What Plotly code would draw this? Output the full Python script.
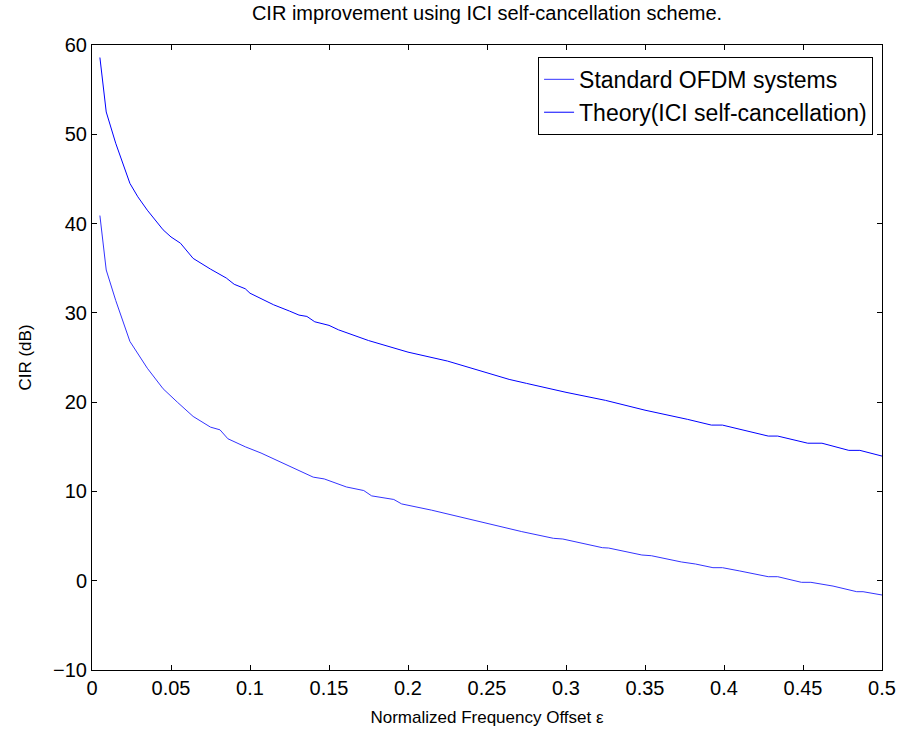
import plotly.graph_objects as go

# Data
eps_theory = [0.005, 0.009, 0.015, 0.02, 0.024, 0.029, 0.035, 0.045, 0.05, 0.056, 0.064,
              0.075, 0.085, 0.09, 0.097, 0.1, 0.107, 0.115, 0.125, 0.131, 0.136, 0.141,
              0.15, 0.156, 0.175, 0.2, 0.225, 0.25, 0.257, 0.264, 0.275, 0.3, 0.325,
              0.35, 0.377, 0.392, 0.399, 0.428, 0.434, 0.453, 0.462, 0.479, 0.486, 0.5]
cir_theory = [58.6, 52.5, 49.0, 46.5, 44.5, 43.0, 41.5, 39.3, 38.5, 37.8, 36.1,
              34.9, 33.9, 33.2, 32.7, 32.2, 31.6, 30.9, 30.2, 29.75, 29.6, 29.0,
              28.6, 28.1, 26.9, 25.6, 24.6, 23.3, 23.0, 22.55, 22.1, 21.1, 20.2,
              19.1, 18.07, 17.43, 17.43, 16.2, 16.2, 15.4, 15.4, 14.6, 14.6, 13.96]

eps_std = [0.005, 0.009, 0.015, 0.024, 0.035, 0.045, 0.054, 0.064, 0.075, 0.081, 0.086,
           0.097, 0.107, 0.125, 0.14, 0.147, 0.161, 0.172, 0.177, 0.191, 0.196, 0.215,
           0.25, 0.272, 0.292, 0.298, 0.323, 0.327, 0.348, 0.354, 0.373, 0.382, 0.393,
           0.399, 0.41, 0.428, 0.434, 0.449, 0.455, 0.469, 0.484, 0.488, 0.5]
cir_std = [40.9, 34.8, 31.4, 26.8, 23.8, 21.5, 20.0, 18.4, 17.2, 16.9, 15.9,
           15.0, 14.3, 12.8, 11.6, 11.4, 10.5, 10.1, 9.5, 9.1, 8.6, 7.9,
           6.4, 5.5, 4.75, 4.67, 3.7, 3.66, 2.88, 2.8, 2.1, 1.87, 1.46,
           1.46, 1.09, 0.45, 0.45, -0.18, -0.18, -0.6, -1.23, -1.23, -1.6]

x_ticks = [0, 0.05, 0.1, 0.15, 0.2, 0.25, 0.3, 0.35, 0.4, 0.45, 0.5]
x_labels = ["0", "0.05", "0.1", "0.15", "0.2", "0.25", "0.3", "0.35", "0.4", "0.45", "0.5"]
y_ticks = [-10, 0, 10, 20, 30, 40, 50, 60]

FONT = "Arial, Liberation Sans, sans-serif"

fig = go.Figure()
fig.add_trace(go.Scatter(x=eps_std, y=cir_std, mode="lines", name="Standard OFDM systems",
                         line=dict(color="#3333ff", width=1)))
fig.add_trace(go.Scatter(x=eps_theory, y=cir_theory, mode="lines",
                         name="Theory(ICI self-cancellation)",
                         line=dict(color="#0000ff", width=1)))

axis_common = dict(showgrid=False, zeroline=False, showline=True, linecolor="black",
                   linewidth=1, mirror="ticks", ticks="inside", ticklen=5, tickcolor="black",
                   tickfont=dict(family=FONT, size=20, color="black"))

fig.update_layout(
    width=908, height=743,
    margin=dict(l=92, r=22, t=45, b=73),
    paper_bgcolor="white", plot_bgcolor="white",
    title=dict(text="CIR improvement using ICI self-cancellation scheme.",
               x=0.5, xref="paper", xanchor="center", y=0.982, yanchor="middle",
               font=dict(family=FONT, size=20, color="black")),
    xaxis=dict(range=[0, 0.5], tickvals=x_ticks, ticktext=x_labels,
               title=dict(text="Normalized Frequency Offset ε", standoff=13,
                          font=dict(family=FONT, size=17, color="black")),
               **axis_common),
    yaxis=dict(range=[-10, 60], tickvals=y_ticks,
               title=dict(text="CIR (dB)", standoff=17,
                          font=dict(family=FONT, size=17, color="black")),
               **axis_common),
    legend=dict(x=0.9887, y=0.981, xanchor="right", yanchor="top",
                bgcolor="white", bordercolor="black", borderwidth=1,
                font=dict(family=FONT, size=23, color="black"), tracegroupgap=0),
    showlegend=True,
)

fig.write_html("out.html")
